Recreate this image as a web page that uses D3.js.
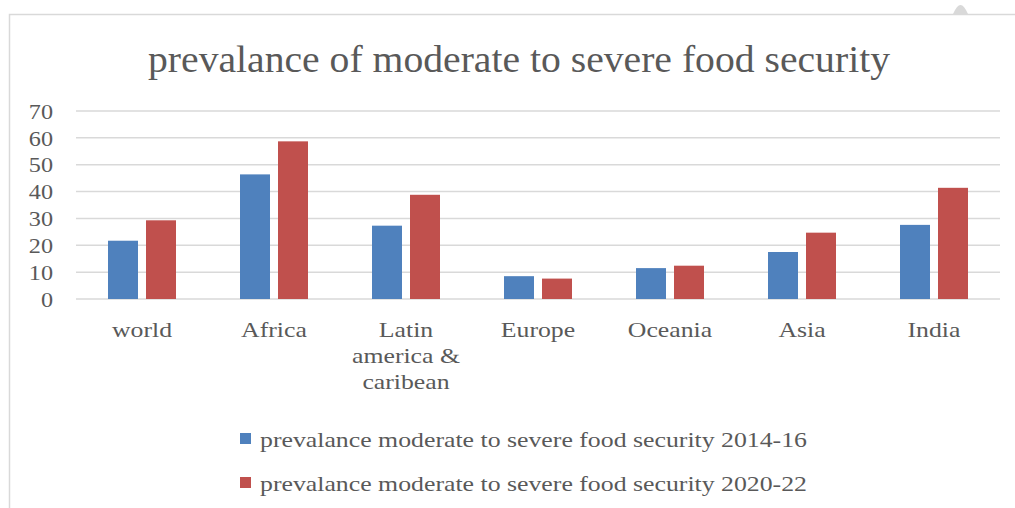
<!DOCTYPE html>
<html><head><meta charset="utf-8">
<script src="https://cdn.jsdelivr.net/npm/d3@7"></script>
<style>body{margin:0;background:#fff}svg{display:block}</style>
</head><body>
<script>
const categories = ["world","Africa","Latin america & caribean","Europe","Oceania","Asia","India"];
const categoryLines = [["world"],["Africa"],["Latin","america &","caribean"],["Europe"],["Oceania"],["Asia"],["India"]];
const series1Name = "prevalance moderate to severe food security 2014-16";
const series2Name = "prevalance moderate to severe food security 2020-22";
const series1 = [21.7, 46.4, 27.3, 8.5, 11.5, 17.5, 27.6];
const series2 = [29.3, 58.7, 38.8, 7.6, 12.4, 24.7, 41.4];
const yTicks = [0,10,20,30,40,50,60,70];
const title = "prevalance of moderate to severe food security";

const W = 1015, H = 508;
const font = "'Liberation Serif', 'DejaVu Serif', serif";
const textColor = "#595959";
const svg = d3.select("body").append("svg").attr("width", W).attr("height", H);

function widen(sel, f) {
  sel.each(function() {
    const l = this.getComputedTextLength();
    d3.select(this).attr("textLength", l * f).attr("lengthAdjust", "spacingAndGlyphs");
  });
}

// chart border
svg.append("path").attr("d", `M9.5,${H} V14.5 H${W}`).attr("fill","none").attr("stroke","#d9d9d9").attr("stroke-width",1.5);
svg.append("path").attr("d","M953,14 Q957,5 960.5,5 Q964,5 968,14 Z").attr("fill","#d9d9d9");

svg.append("text").attr("x", 519).attr("y", 72).attr("text-anchor","middle")
  .attr("font-family", font).attr("font-size", 37).attr("fill", textColor).text(title)
  .attr("textLength", 742).attr("lengthAdjust","spacingAndGlyphs");

const x = d3.scaleBand().domain(categories).range([76, 1000]).paddingInner(0).paddingOuter(0);
const y = d3.scaleLinear().domain([0, 70]).range([299, 111]);

// gridlines
svg.append("g").selectAll("line").data(yTicks).join("line")
  .attr("x1", 76).attr("x2", 1000).attr("y1", d => y(d)).attr("y2", d => y(d))
  .attr("stroke", "#d9d9d9").attr("stroke-width", 1.5);

// y axis labels
const yAxis = d3.axisLeft(y).tickValues(yTicks).tickSize(0).tickPadding(0);
const yg = svg.append("g").attr("transform","translate(53,0)").call(yAxis);
yg.select(".domain").remove();
yg.selectAll("text").attr("font-family", font).attr("font-size", 22).attr("fill", textColor).attr("dy","0.33em");
widen(yg.selectAll("text"), 1.1);

const barW = 30, gap = 8;
const colors = ["#4f81bd", "#c0504d"];
[series1, series2].forEach((s, si) => {
  svg.append("g").selectAll("rect").data(s).join("rect")
    .attr("x", (d, i) => x(categories[i]) + x.bandwidth()/2 + (si === 0 ? -gap/2 - barW : gap/2))
    .attr("width", barW)
    .attr("y", d => y(d)).attr("height", d => y(0) - y(d))
    .attr("fill", colors[si]);
});

// category labels
const xl = svg.append("g");
categories.forEach((c, i) => {
  const cx = x(c) + x.bandwidth()/2;
  categoryLines[i].forEach((ln, li) => {
    xl.append("text").attr("x", cx).attr("y", 337 + li * 26)
      .attr("text-anchor","middle").attr("font-family", font).attr("font-size", 22).attr("fill", textColor).text(ln);
  });
});
widen(xl.selectAll("text"), 1.17);

// legend
[series1Name, series2Name].forEach((n, i) => {
  const ly = 439 + i * 44;
  svg.append("rect").attr("x", 240).attr("y", ly - 6).attr("width", 11).attr("height", 11).attr("fill", colors[i]);
  svg.append("text").attr("x", 260).attr("y", ly + 8).attr("font-family", font).attr("font-size", 22)
    .attr("fill", textColor).text(n).attr("textLength", 547).attr("lengthAdjust","spacingAndGlyphs");
});
</script>
</body></html>
